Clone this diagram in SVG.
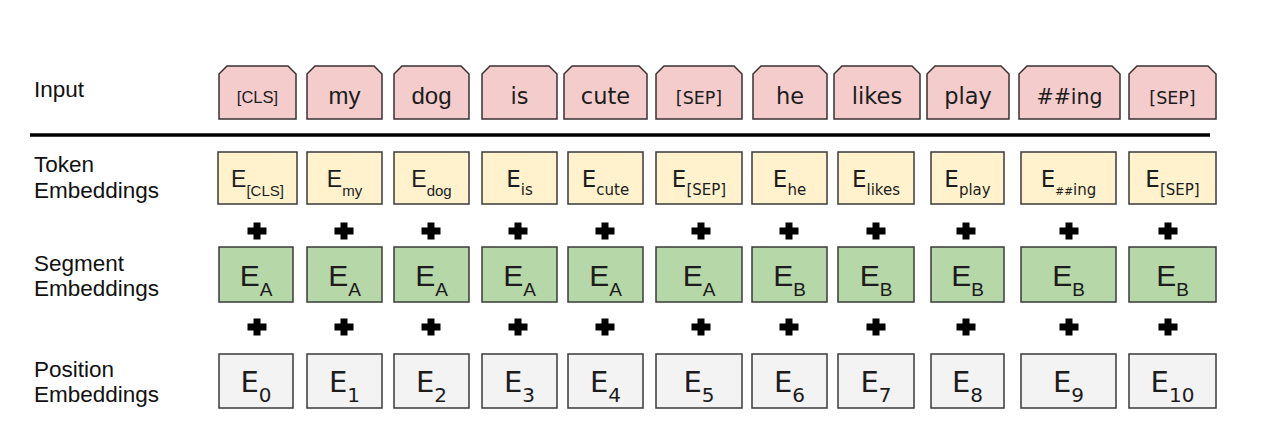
<svg xmlns="http://www.w3.org/2000/svg" width="1281" height="436" viewBox="0 0 1281 436">
<style>
.lbl{font-family:"Liberation Sans",Arial,sans-serif;font-size:22.5px;fill:#111}
.inp{fill:#f4cccc;stroke:#3a3030;stroke-width:1.5}
.tok{fill:#fff2cc;stroke:#3a3a3a;stroke-width:1.5}
.seg{fill:#b6d7a8;stroke:#3a3a3a;stroke-width:1.5}
.pos{fill:#f3f3f3;stroke:#3a3a3a;stroke-width:1.5}
.a{font-family:"Liberation Sans",Arial,sans-serif;fill:#1c1c1c;text-anchor:middle}
.v{font-family:"DejaVu Sans",Verdana,sans-serif;fill:#1c1c1c;text-anchor:middle}
.it{font-size:22.5px}
.te{font-size:23px}
.ts{font-size:15px}
.se{font-size:30px}
.ss{font-size:19px}
.pe{font-size:29px}
.ps{font-size:20px}
.plus{fill:#000}
</style>
<defs>
<path id="plus" d="M-3.5,-8.5H3.5V-3.5H9.5V3.5H3.5V8.5H-3.5V3.5H-9.5V-3.5H-3.5Z"/>
</defs>

<g id="labels">
<text class="lbl" x="34" y="97">Input</text>
<text class="lbl" x="34" y="172">Token</text>
<text class="lbl" x="34" y="198">Embeddings</text>
<text class="lbl" x="34" y="271">Segment</text>
<text class="lbl" x="34" y="296">Embeddings</text>
<text class="lbl" x="34" y="377">Position</text>
<text class="lbl" x="34" y="402">Embeddings</text>
</g>

<g id="separator"><line x1="30" y1="135" x2="1210" y2="135" stroke="#000" stroke-width="3.5"/></g>

<g id="input-row">
<g id="in-1"><path class="inp" d="M219,119V74L227,66H288L296,74V119Z"/><text class="a" x="257.5" y="103" font-size="16.5">[CLS]</text></g>
<g id="in-2"><path class="inp" d="M307,119V74L315,66H374L382,74V119Z"/><text class="a" x="344.5" y="104" font-size="24">my</text></g>
<g id="in-3"><path class="inp" d="M394,119V74L402,66H461L469,74V119Z"/><text class="a" x="431.5" y="104" font-size="24">dog</text></g>
<g id="in-4"><path class="inp" d="M482,119V74L490,66H549L557,74V119Z"/><text class="v it" x="519.5" y="104">is</text></g>
<g id="in-5"><path class="inp" d="M564,119V74L572,66H639L647,74V119Z"/><text class="v it" x="605.5" y="104">cute</text></g>
<g id="in-6"><path class="inp" d="M656,119V74L664,66H734L742,74V119Z"/><text class="v" x="699" y="104" font-size="17.5">[SEP]</text></g>
<g id="in-7"><path class="inp" d="M753,119V74L761,66H819L827,74V119Z"/><text class="v it" x="790" y="104">he</text></g>
<g id="in-8"><path class="inp" d="M834,119V74L842,66H912L920,74V119Z"/><text class="v it" x="877" y="104">likes</text></g>
<g id="in-9"><path class="inp" d="M927,119V74L935,66H1001L1009,74V119Z"/><text class="v it" x="968" y="104">play</text></g>
<g id="in-10"><path class="inp" d="M1019,119V74L1027,66H1112L1120,74V119Z"/><text class="v" x="1069.5" y="104" font-size="20.5">##ing</text></g>
<g id="in-11"><path class="inp" d="M1129,119V74L1137,66H1208L1216,74V119Z"/><text class="v" x="1172.5" y="104" font-size="17.5">[SEP]</text></g>
</g>

<g id="token-row">
<g id="tok-1"><rect class="tok" x="218" y="152" width="79" height="52"/><text class="a te" x="257.5" y="187">E<tspan class="ts" dy="9">[CLS]</tspan></text></g>
<g id="tok-2"><rect class="tok" x="307" y="152" width="75" height="52"/><text class="a te" x="344.5" y="187">E<tspan class="ts" dy="9">my</tspan></text></g>
<g id="tok-3"><rect class="tok" x="394" y="152" width="75" height="52"/><text class="a te" x="431.5" y="187">E<tspan class="ts" dy="9">dog</tspan></text></g>
<g id="tok-4"><rect class="tok" x="482" y="152" width="75" height="52"/><text class="v te" x="519.5" y="187">E<tspan class="ts" dy="8">is</tspan></text></g>
<g id="tok-5"><rect class="tok" x="568" y="152" width="75" height="52"/><text class="v te" x="605.5" y="187">E<tspan class="ts" dy="8">cute</tspan></text></g>
<g id="tok-6"><rect class="tok" x="656" y="152" width="86" height="52"/><text class="v te" x="699" y="187">E<tspan class="ts" dy="8">[SEP]</tspan></text></g>
<g id="tok-7"><rect class="tok" x="752" y="152" width="75" height="52"/><text class="v te" x="789.5" y="187">E<tspan class="ts" dy="8">he</tspan></text></g>
<g id="tok-8"><rect class="tok" x="838" y="152" width="76" height="52"/><text class="v te" x="876" y="187">E<tspan class="ts" dy="8">likes</tspan></text></g>
<g id="tok-9"><rect class="tok" x="931" y="152" width="73" height="52"/><text class="v te" x="967.5" y="187">E<tspan class="ts" dy="8">play</tspan></text></g>
<g id="tok-10"><rect class="tok" x="1021" y="152" width="95" height="52"/><text class="v te" x="1068.5" y="187">E<tspan class="ts" dy="8"><tspan font-size="10.5">##</tspan>ing</tspan></text></g>
<g id="tok-11"><rect class="tok" x="1129" y="152" width="87" height="52"/><text class="v te" x="1172.5" y="187">E<tspan class="ts" dy="8">[SEP]</tspan></text></g>
</g>

<g id="segment-row">
<g id="seg-1"><rect class="seg" x="219" y="247" width="74" height="55"/><text class="a se" x="256" y="286">E<tspan class="ss" dy="10">A</tspan></text></g>
<g id="seg-2"><rect class="seg" x="307" y="247" width="75" height="55"/><text class="a se" x="344.5" y="286">E<tspan class="ss" dy="10">A</tspan></text></g>
<g id="seg-3"><rect class="seg" x="394" y="247" width="75" height="55"/><text class="a se" x="431.5" y="286">E<tspan class="ss" dy="10">A</tspan></text></g>
<g id="seg-4"><rect class="seg" x="482" y="247" width="75" height="55"/><text class="a se" x="519.5" y="286">E<tspan class="ss" dy="10">A</tspan></text></g>
<g id="seg-5"><rect class="seg" x="568" y="247" width="75" height="55"/><text class="a se" x="605.5" y="286">E<tspan class="ss" dy="10">A</tspan></text></g>
<g id="seg-6"><rect class="seg" x="656" y="247" width="86" height="55"/><text class="a se" x="699" y="286">E<tspan class="ss" dy="10">A</tspan></text></g>
<g id="seg-7"><rect class="seg" x="752" y="247" width="75" height="55"/><text class="a se" x="789.5" y="286">E<tspan class="ss" dy="10">B</tspan></text></g>
<g id="seg-8"><rect class="seg" x="838" y="247" width="76" height="55"/><text class="a se" x="876" y="286">E<tspan class="ss" dy="10">B</tspan></text></g>
<g id="seg-9"><rect class="seg" x="931" y="247" width="73" height="55"/><text class="a se" x="967.5" y="286">E<tspan class="ss" dy="10">B</tspan></text></g>
<g id="seg-10"><rect class="seg" x="1021" y="247" width="95" height="55"/><text class="a se" x="1068.5" y="286">E<tspan class="ss" dy="10">B</tspan></text></g>
<g id="seg-11"><rect class="seg" x="1129" y="247" width="87" height="55"/><text class="a se" x="1172.5" y="286">E<tspan class="ss" dy="10">B</tspan></text></g>
</g>

<g id="position-row">
<g id="pos-1"><rect class="pos" x="219" y="354" width="74" height="54"/><text class="v pe" x="256" y="392">E<tspan class="ps" dy="10">0</tspan></text></g>
<g id="pos-2"><rect class="pos" x="307" y="354" width="75" height="54"/><text class="v pe" x="344.5" y="392">E<tspan class="ps" dy="10">1</tspan></text></g>
<g id="pos-3"><rect class="pos" x="394" y="354" width="75" height="54"/><text class="v pe" x="431.5" y="392">E<tspan class="ps" dy="10">2</tspan></text></g>
<g id="pos-4"><rect class="pos" x="482" y="354" width="75" height="54"/><text class="v pe" x="519.5" y="392">E<tspan class="ps" dy="10">3</tspan></text></g>
<g id="pos-5"><rect class="pos" x="568" y="354" width="75" height="54"/><text class="v pe" x="605.5" y="392">E<tspan class="ps" dy="10">4</tspan></text></g>
<g id="pos-6"><rect class="pos" x="656" y="354" width="86" height="54"/><text class="v pe" x="699" y="392">E<tspan class="ps" dy="10">5</tspan></text></g>
<g id="pos-7"><rect class="pos" x="752" y="354" width="75" height="54"/><text class="v pe" x="789.5" y="392">E<tspan class="ps" dy="10">6</tspan></text></g>
<g id="pos-8"><rect class="pos" x="838" y="354" width="76" height="54"/><text class="v pe" x="876" y="392">E<tspan class="ps" dy="10">7</tspan></text></g>
<g id="pos-9"><rect class="pos" x="931" y="354" width="73" height="54"/><text class="v pe" x="967.5" y="392">E<tspan class="ps" dy="10">8</tspan></text></g>
<g id="pos-10"><rect class="pos" x="1021" y="354" width="95" height="54"/><text class="v pe" x="1068.5" y="392">E<tspan class="ps" dy="10">9</tspan></text></g>
<g id="pos-11"><rect class="pos" x="1129" y="354" width="87" height="54"/><text class="v pe" x="1172.5" y="392">E<tspan class="ps" dy="10">10</tspan></text></g>
</g>

<g id="plus-signs" class="plus">
<use href="#plus" x="257" y="231"/><use href="#plus" x="344" y="231"/><use href="#plus" x="431" y="231"/><use href="#plus" x="518" y="231"/><use href="#plus" x="605" y="231"/><use href="#plus" x="701" y="231"/><use href="#plus" x="789" y="231"/><use href="#plus" x="876" y="231"/><use href="#plus" x="966" y="231"/><use href="#plus" x="1069" y="231"/><use href="#plus" x="1168" y="231"/>
<use href="#plus" x="257" y="327"/><use href="#plus" x="344" y="327"/><use href="#plus" x="431" y="327"/><use href="#plus" x="518" y="327"/><use href="#plus" x="605" y="327"/><use href="#plus" x="701" y="327"/><use href="#plus" x="789" y="327"/><use href="#plus" x="876" y="327"/><use href="#plus" x="966" y="327"/><use href="#plus" x="1069" y="327"/><use href="#plus" x="1168" y="327"/>
</g>

<g id="connectors"></g>
</svg>
